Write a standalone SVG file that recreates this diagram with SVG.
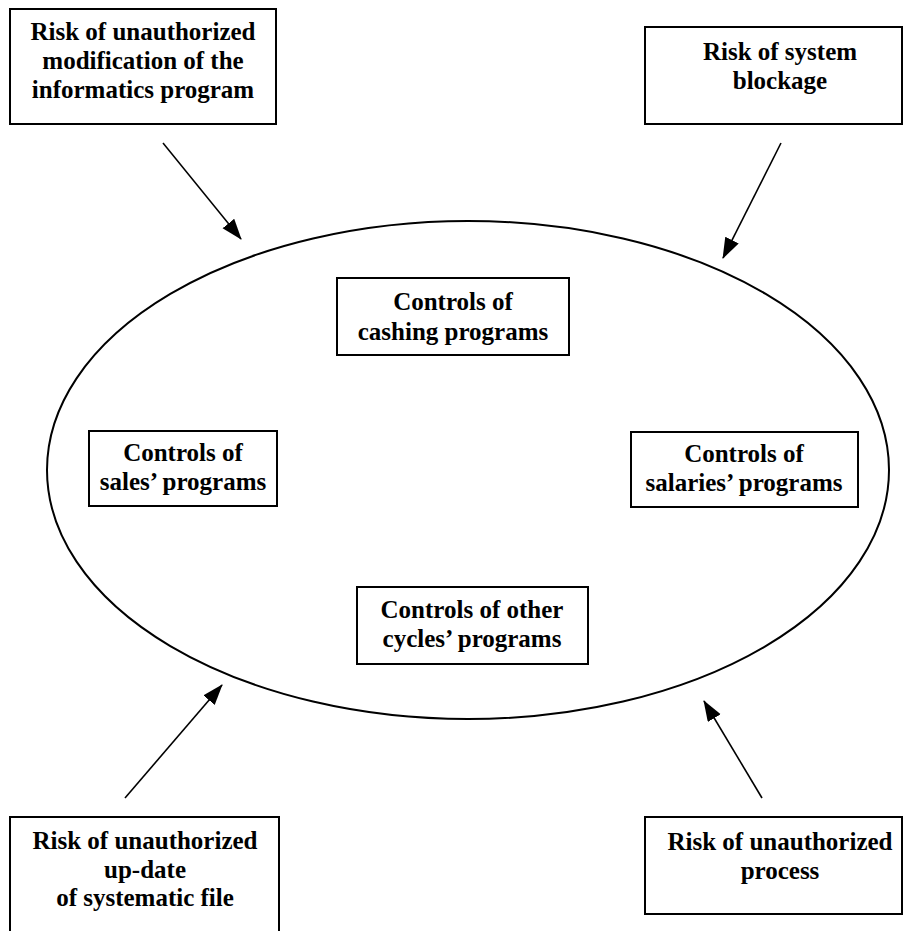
<svg xmlns="http://www.w3.org/2000/svg" width="903" height="931" viewBox="0 0 903 931">
<style>
.box{fill:#fff;stroke:#000;stroke-width:2}
.t{font-family:"Liberation Serif","Times New Roman",serif;font-weight:bold;font-size:25px;fill:#000;text-anchor:middle}
.conn{stroke:#000;stroke-width:1.6;fill:none}
</style>
<defs>
<marker id="ah" markerUnits="userSpaceOnUse" markerWidth="22" markerHeight="16" refX="20" refY="7.5" orient="auto">
<path d="M0,0 L21,7.5 L0,15 z" fill="#000"/>
</marker>
</defs>
<rect width="903" height="931" fill="#fff"/>
<g id="ellipse">
<ellipse cx="468" cy="470" rx="421" ry="249" fill="none" stroke="#000" stroke-width="2"/>
</g>
<g id="risk-modification">
<rect class="box" x="10" y="9" width="266" height="115"/>
<text class="t" x="143" y="40">Risk of unauthorized</text>
<text class="t" x="143" y="69">modification of the</text>
<text class="t" x="143" y="98">informatics program</text>
</g>
<g id="risk-blockage">
<rect class="box" x="645" y="27" width="257" height="97"/>
<text class="t" x="780" y="60">Risk of system</text>
<text class="t" x="780" y="89">blockage</text>
</g>
<g id="risk-update">
<rect class="box" x="10" y="817" width="269" height="130"/>
<text class="t" x="145" y="849">Risk of unauthorized</text>
<text class="t" x="145" y="878">up-date</text>
<text class="t" x="145" y="906">of systematic file</text>
</g>
<g id="risk-process">
<rect class="box" x="645" y="817" width="257" height="97"/>
<text class="t" x="780" y="850">Risk of unauthorized</text>
<text class="t" x="780" y="879">process</text>
</g>
<g id="ctrl-cashing">
<rect class="box" x="337" y="278" width="232" height="77"/>
<text class="t" x="453" y="310">Controls of</text>
<text class="t" x="453" y="340">cashing programs</text>
</g>
<g id="ctrl-sales">
<rect class="box" x="89" y="431" width="188" height="75"/>
<text class="t" x="183" y="461">Controls of</text>
<text class="t" x="183" y="490">sales’ programs</text>
</g>
<g id="ctrl-salaries">
<rect class="box" x="631" y="432" width="227" height="75"/>
<text class="t" x="744" y="462">Controls of</text>
<text class="t" x="744" y="491">salaries’ programs</text>
</g>
<g id="ctrl-other">
<rect class="box" x="357" y="587" width="231" height="77"/>
<text class="t" x="472" y="618">Controls of other</text>
<text class="t" x="472" y="647">cycles’ programs</text>
</g>
<g id="connectors">
<line class="conn" x1="163" y1="143" x2="241" y2="239" marker-end="url(#ah)"/>
<line class="conn" x1="781" y1="143" x2="723" y2="258" marker-end="url(#ah)"/>
<line class="conn" x1="125" y1="798" x2="222" y2="685" marker-end="url(#ah)"/>
<line class="conn" x1="762" y1="798" x2="704" y2="701" marker-end="url(#ah)"/>
</g>
</svg>
